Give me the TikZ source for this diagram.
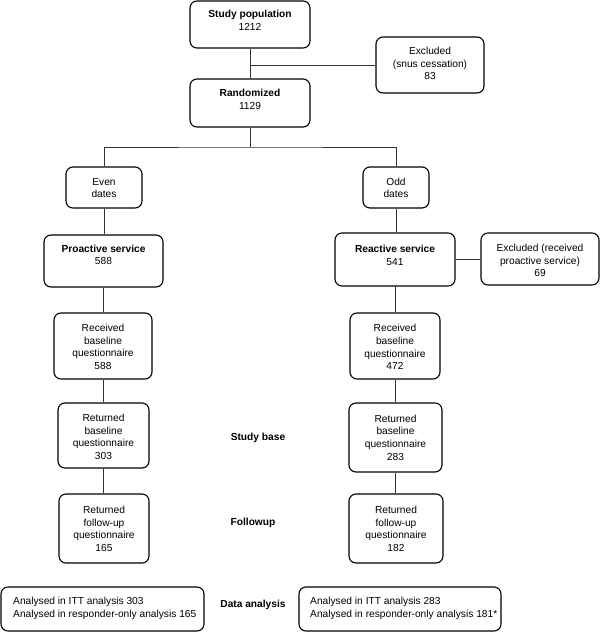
\documentclass[tikz,border=0pt]{standalone}
\usepackage{fontspec}
\setmainfont{Liberation Sans}
\begin{document}
\begin{tikzpicture}[x=1pt,y=-1pt]
\tikzset{
  box/.style={draw=black, line width=1.1pt, rounded corners=7pt, inner sep=0pt},
  conn/.style={draw=black!80, line width=0.9pt},
  txt/.style={align=center, inner sep=0pt, font=\fontsize{10.2}{12.6}\selectfont},
  ltxt/.style={align=left, inner sep=0pt, anchor=west, font=\fontsize{10.2}{12.6}\selectfont},
  lab/.style={inner sep=0pt, font=\bfseries\fontsize{10.2}{12.6}\selectfont}
}
\useasboundingbox (0,0) rectangle (600,632);

% boxes
\node[box, minimum width=120pt, minimum height=47pt] (sp) at (250,24.5) {};
\node[txt] (spt) at (250,20.5) {\textbf{Study population}\\1212};

\node[box, minimum width=108pt, minimum height=56pt] (exa) at (430,65) {};
\node[txt] (exat) at (430,63.5) {Excluded\\(snus cessation)\\83};

\node[box, minimum width=120pt, minimum height=48pt] (rnd) at (250,103) {};
\node[txt] (rndt) at (250,99.5) {\textbf{Randomized}\\1129};

\node[box, minimum width=76pt, minimum height=41pt] (even) at (104,187.5) {};
\node[txt] (event) at (104,188) {Even\\dates};

\node[box, minimum width=66pt, minimum height=41pt] (odd) at (396,187.5) {};
\node[txt] (oddt) at (396,188) {Odd\\dates};

\node[box, minimum width=119pt, minimum height=52pt] (pro) at (103.5,261) {};
\node[txt] (prot) at (103.5,255) {\textbf{Proactive service}\\588};

\node[box, minimum width=120pt, minimum height=53pt] (rea) at (395,259.5) {};
\node[txt] (reat) at (395,255.5) {\textbf{Reactive service}\\541};

\node[box, minimum width=118pt, minimum height=52pt] (exb) at (540,259) {};
\node[txt] (exbt) at (540,260.5) {Excluded (received\\proactive service)\\69};

\node[box, minimum width=98pt, minimum height=66pt] (reca) at (103,346) {};
\node[txt] (recat) at (103,347) {Received\\baseline\\questionnaire\\588};

\node[box, minimum width=90pt, minimum height=66pt] (recb) at (395,346) {};
\node[txt] (recbt) at (395,347) {Received\\baseline\\questionnaire\\472};

\node[box, minimum width=91pt, minimum height=65pt] (reta) at (103.5,435.5) {};
\node[txt] (retat) at (103.5,437) {Returned\\baseline\\questionnaire\\303};

\node[box, minimum width=93pt, minimum height=69pt] (retb) at (395.5,437.5) {};
\node[txt] (retbt) at (395.5,437.5) {Returned\\baseline\\questionnaire\\283};

\node[box, minimum width=90pt, minimum height=69pt] (fua) at (104,528.5) {};
\node[txt] (fuat) at (104,529) {Returned\\follow-up\\questionnaire\\165};

\node[box, minimum width=94pt, minimum height=69pt] (fub) at (396,528.5) {};
\node[txt] (fubt) at (396,529) {Returned\\follow-up\\questionnaire\\182};

\node[box, minimum width=203pt, minimum height=44pt] (daa) at (102.5,609) {};
\node[ltxt] (daat) at (13,608.5) {Analysed in ITT analysis 303\\Analysed in responder-only analysis 165};

\node[box, minimum width=202pt, minimum height=44pt] (dab) at (400,609) {};
\node[ltxt] (dabt) at (310,608.5) {Analysed in ITT analysis 283\\Analysed in responder-only analysis 181*};

% side labels
\node[lab] (sb) at (258,438) {Study base};
\node[lab] (fl) at (253,523) {Followup};
\node[lab] (dl) at (253,605) {Data analysis};

% connectors
\coordinate (split) at (250,147);
\draw[conn] (sp.south) -- (rnd.north);
\draw[conn] (sp.south |- exa.west) -- (exa.west);
\draw[conn] (rnd.south) -- (split);
\draw[conn] (even.north) |- (split) -| (odd.north);
\draw[conn] (even.south) -- (even.south |- pro.north);
\draw[conn] (odd.south) -- (odd.south |- rea.north);
\draw[conn] (rea.east) -- (rea.east -| exb.west);
\draw[conn] (pro.south) -- (pro.south |- reca.north);
\draw[conn] (rea.south) -- (rea.south |- recb.north);
\draw[conn] (reca.south) -- (reca.south |- reta.north);
\draw[conn] (recb.south) -- (recb.south |- retb.north);
\draw[conn] (reta.south) -- (reta.south |- fua.north);
\draw[conn] (retb.south) -- (retb.south |- fub.north);
\end{tikzpicture}
\end{document}
